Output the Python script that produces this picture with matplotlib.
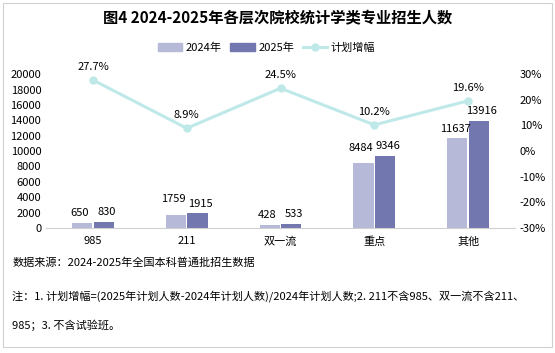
import numpy as np
import matplotlib
matplotlib.use("Agg")
import matplotlib.pyplot as plt
from matplotlib.patches import Rectangle
from matplotlib.lines import Line2D
from matplotlib.ticker import FuncFormatter

plt.rcParams['font.family'] = ['Noto Sans CJK SC', 'DejaVu Sans']

# data
categories = ['985', '211', '双一流', '重点', '其他']
n2024 = [650, 1759, 428, 8484, 11637]
n2025 = [830, 1915, 533, 9346, 13916]
growth = [27.7, 8.9, 24.5, 10.2, 19.6]

c2024 = '#b6b9d7'
c2025 = '#7377b0'
cline = '#bfe8e8'

fig = plt.figure(figsize=(5.55, 3.53), dpi=100)
fig.patches.append(Rectangle((0.006, 0.017), 0.988, 0.975, transform=fig.transFigure,
                             fill=False, edgecolor='#d0d0d0', lw=0.8))

ax = fig.add_axes([0.083, 0.354, 0.845, 0.436])
x = np.arange(len(categories))
w = 0.215
ax.bar(x - 0.115, n2024, w, color=c2024)
ax.bar(x + 0.115, n2025, w, color=c2025)
for xi, a, b in zip(x, n2024, n2025):
    # lift the 2024 label a little when the two labels would sit side by side
    lift = 700 if abs(a - b) < 1000 and a > 1000 else 0
    ax.text(xi - 0.14, a + 600 + lift, str(a), ha='center', va='bottom', fontsize=8)
    ax.text(xi + 0.145, b + 600, str(b), ha='center', va='bottom', fontsize=8)

ax.set_xlim(-0.5, len(categories) - 0.5)
ax.set_ylim(0, 20000)
ax.set_yticks(np.arange(0, 20001, 2000))
ax.set_xticks(x)
ax.set_xticklabels(categories)
ax.tick_params(axis='both', length=0, labelsize=8)
ax.tick_params(axis='x', pad=6)
for s in ['top', 'left', 'right']:
    ax.spines[s].set_visible(False)
ax.spines['bottom'].set_color('#d0d0d0')

ax2 = ax.twinx()
ax2.plot(x, growth, color=cline, lw=2.2, marker='o', ms=5)
for xi, g in zip(x, growth):
    ax2.text(xi, g + 3.2, f'{g}%', ha='center', va='bottom', fontsize=8)
ax2.set_ylim(-30, 30)
ax2.set_yticks(np.arange(-30, 31, 10))
ax2.yaxis.set_major_formatter(FuncFormatter(lambda v, p: f'{v:.0f}%'))
ax2.tick_params(axis='y', length=0, labelsize=8)
for s in ['top', 'left', 'right', 'bottom']:
    ax2.spines[s].set_visible(False)

fig.text(0.5, 0.948, '图4 2024-2025年各层次院校统计学类专业招生人数', ha='center', va='center',
         fontsize=11, fontweight='bold')

handles = [Rectangle((0, 0), 1, 1, color=c2024), Rectangle((0, 0), 1, 1, color=c2025),
           Line2D([0], [0], color=cline, lw=2.2, marker='o', ms=5)]
fig.legend(handles, ['2024年', '2025年', '计划增幅'], loc='center', bbox_to_anchor=(0.48, 0.865),
           ncol=3, frameon=False, fontsize=8, handlelength=2.2, handleheight=0.7,
           columnspacing=0.8, handletextpad=0.3)

fig.text(0.022, 0.255, '数据来源：2024-2025年全国本科普通批招生数据', fontsize=8,
         style='italic', va='center')
fig.text(0.022, 0.16, '注：1. 计划增幅=(2025年计划人数-2024年计划人数)/2024年计划人数;2. 211不含985、双一流不含211、',
         fontsize=8, style='italic', va='center')
fig.text(0.022, 0.078, '985；3. 不含试验班。', fontsize=8, style='italic', va='center')

fig.savefig('out.png', dpi=100)
